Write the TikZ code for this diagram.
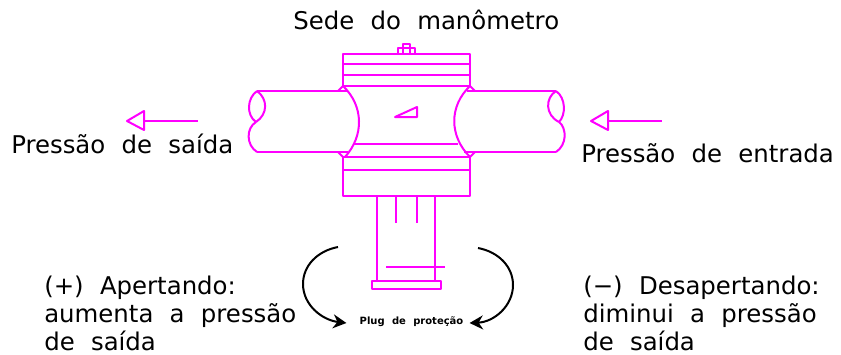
\documentclass[tikz,border=0pt]{standalone}
\usepackage{fontspec}
\setmainfont[WordSpace=2.1]{DejaVu Sans}
\usetikzlibrary{arrows.meta,positioning}
\definecolor{pipe}{HTML}{ff00ff}

\begin{document}
\begin{tikzpicture}[x=0.75pt,y=-0.75pt,line join=round,myline/.style={draw=pipe,line width=1.5pt},myarrow/.style={-{Stealth[length=10pt,width=10.5pt]},draw=black,line width=1.5pt}]
    \tikzstyle{big label}=[inner sep=0pt,anchor=base west,align=left,font=\fontsize{18.3}{21}\selectfont];
    \tikzstyle{plug label}=[inner sep=0pt,font=\fontsize{7.5}{8}\selectfont\bfseries];
    \useasboundingbox (0,0) rectangle (841,354);

    % Labels
    \node[big label] (sede) at (293,29) {Sede do manômetro};
    \node[big label] (saida) at (11,153) {Pressão de saída};
    \node[big label] (entrada) at (581,162) {Pressão de entrada};
    \node[big label] (aperta) at (44,350) {(+) Apertando:\\aumenta a pressão\\de saída};
    \node[big label] (desaperta) at (583,350) {(\textminus) Desapertando:\\diminui a pressão\\de saída};
    \node[plug label] (plug) at (411.5,322) {Plug de proteção};

    % Flow arrows
    \coordinate (out-tip) at (127,121);
    \coordinate (out-tail) at (198,121);
    \coordinate (in-tip) at (591,121);
    \coordinate (in-tail) at (662,121);
    \draw[myline] (out-tip) -- (144,111) -- (144,130) -- cycle;
    \draw[myline] (144,121) -- (out-tail);
    \draw[myline] (in-tip) -- (608,111) -- (608,130) -- cycle;
    \draw[myline] (608,121) -- (in-tail);

    % Body
    \draw[myline] (343,54) rectangle (470,86);
    \foreach \y in {64,75}
        \draw[myline] (343,\y) -- (470,\y);
    \draw[myline] (343,157) rectangle (470,196);
    \draw[myline] (343,170) -- (470,170);
    \draw[myline] (354,144) -- (458,144);
    \draw[myline] (395,117) -- (417,107) -- (417,117) -- cycle;

    % Screw on top
    \draw[myline] (398,54) -- (398,48) -- (415,48) -- (415,54);
    \draw[myline] (403,54) -- (403,44) -- (410,44) -- (410,54);

    % Left pipe
    \draw[myline] (257,91) -- (347,91);
    \draw[myline] (257,152) -- (348,152);
    \draw[myline] (343,86) .. controls (364,106) and (364,136) .. (345,157);
    \draw[myline] (338,91) -- (343,86);
    \draw[myline] (338,152) -- (343,157);
    \draw[myline] (257,91) .. controls (247,98) and (246,115) .. (256,122);
    \draw[myline] (257,91) .. controls (268,99) and (268,114) .. (256,122);
    \draw[myline] (256,122) .. controls (246,128) and (246,145) .. (257,152);

    % Right pipe
    \draw[myline] (467,91) -- (556,91);
    \draw[myline] (464,152) -- (556,152);
    \draw[myline] (470,86) .. controls (449,106) and (449,136) .. (470,157);
    \draw[myline] (475,91) -- (470,86);
    \draw[myline] (475,152) -- (470,157);
    \draw[myline] (556,91) .. controls (545,98) and (545,115) .. (559,122);
    \draw[myline] (556,91) .. controls (566,98) and (566,115) .. (559,122);
    \draw[myline] (559,122) .. controls (567,128) and (567,145) .. (556,152);

    % Stem and plug
    \foreach \x in {377,435}
        \draw[myline] (\x,196) -- (\x,281);
    \foreach \x in {396,417}
        \draw[myline] (\x,196) -- (\x,223);
    \draw[myline] (386,267) -- (445,267);
    \draw[myline] (372,281) rectangle (441,289);

    % Turning arrows
    \coordinate (tight-start) at (338,247);
    \coordinate (loose-start) at (478,248);
    \draw[myarrow] (tight-start) .. controls (317,251) and (303,266) .. (303,284) .. controls (303,305) and (322,320) .. ([xshift=-9.75pt,yshift=-0.75pt]plug.west);
    \draw[myarrow] (loose-start) .. controls (499,252) and (513,267) .. (513,285) .. controls (513,306) and (494,322) .. ([xshift=4.5pt,yshift=-0.75pt]plug.east);
\end{tikzpicture}
\end{document}
